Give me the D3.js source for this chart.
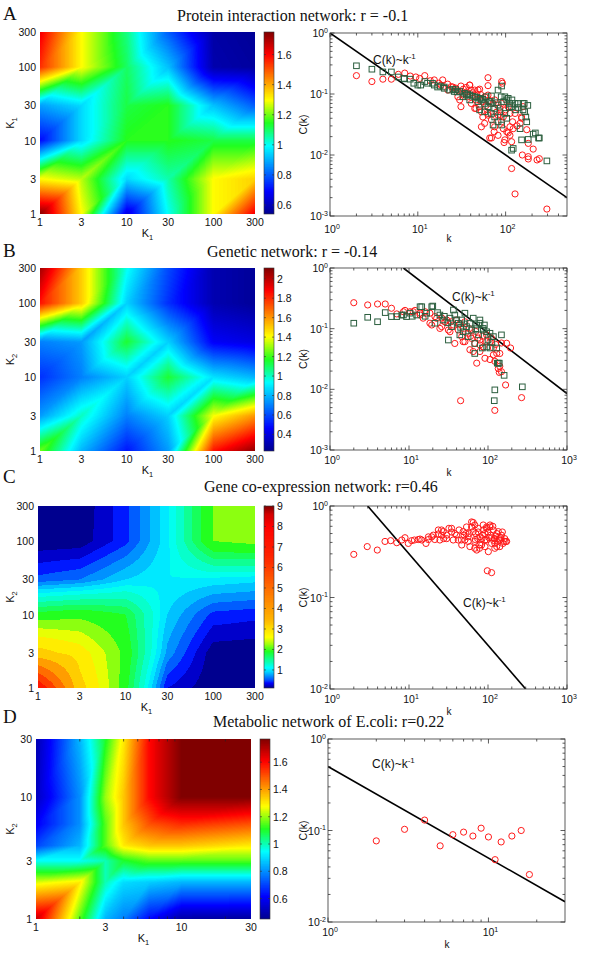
<!DOCTYPE html>
<html><head><meta charset="utf-8">
<script src="https://cdn.jsdelivr.net/npm/d3@7/dist/d3.min.js"></script>
<style>
html,body{margin:0;padding:0;background:#fff;}
svg{display:block;}
</style></head>
<body>
<svg id="fig" width="600" height="961" xmlns="http://www.w3.org/2000/svg"></svg>
<script>
// ================= DATA =================
const kGrid = [1, 3, 10, 30, 100, 300];
const kGridD = [1, 2, 3, 4, 6, 10, 30];

// rows = K2 (from 1 upward), columns = K1
const heatA = [
  [1.74, 1.3, 0.65, 1.0, 1.3, 1.62],
  [1.3, 1.25, 0.95, 1.05, 1.3, 1.35],
  [0.7, 0.95, 1.15, 1.15, 1.12, 1.12],
  [0.88, 0.95, 1.12, 1.15, 0.92, 0.8],
  [1.55, 1.3, 1.1, 0.92, 0.58, 0.56],
  [1.62, 1.3, 1.08, 0.8, 0.57, 0.55]
];
const heatB = [
  [1.25, 0.8, 0.5, 0.75, 1.85, 2.08],
  [0.75, 1.0, 0.7, 0.85, 1.4, 1.6],
  [0.55, 0.7, 0.85, 1.15, 0.88, 0.8],
  [0.7, 0.75, 1.15, 0.85, 0.45, 0.4],
  [1.85, 1.5, 0.85, 0.55, 0.3, 0.25],
  [2.05, 1.5, 0.95, 0.6, 0.3, 0.25]
];
const heatC = [
  [8.0, 3.4, 2.0, 0.4, 0.12, 0.12],
  [3.4, 3.0, 2.1, 0.8, 0.15, 0.13],
  [2.0, 2.1, 1.9, 1.0, 0.5, 0.45],
  [0.6, 0.7, 1.0, 1.15, 1.1, 1.05],
  [0.13, 0.15, 0.5, 1.1, 2.2, 2.3],
  [0.12, 0.13, 0.5, 1.1, 2.2, 2.3]
];
const heatD = [
  [1.68, 1.15, 0.85, 0.78, 0.62, 0.48, 0.47],
  [1.25, 1.3, 1.0, 0.9, 0.88, 0.85, 0.85],
  [0.95, 0.95, 1.0, 1.1, 1.15, 1.15, 1.15],
  [0.7, 0.85, 1.15, 1.3, 1.35, 1.35, 1.3],
  [0.6, 0.8, 1.15, 1.35, 1.5, 1.55, 1.5],
  [0.52, 0.8, 1.2, 1.35, 1.6, 1.77, 1.77],
  [0.5, 0.85, 1.1, 1.3, 1.6, 1.77, 1.77]
];
const levelsC = [0.12,0.25,0.4,0.55,0.7,0.85,1.0,1.15,1.3,1.5,1.7,1.9,2.2,2.5,2.8,3.2,4,5,6,7,8,9];

const cbTicksA = [0.6, 0.8, 1, 1.2, 1.4, 1.6];
const cbTicksB = [0.4, 0.6, 0.8, 1, 1.2, 1.4, 1.6, 1.8, 2];
const cbTicksC = [1, 2, 3, 4, 5, 6, 7, 8, 9];
const cbTicksD = [0.6, 0.8, 1, 1.2, 1.4, 1.6];
const heatTicks = [1, 3, 10, 30, 100, 300];
const heatTicksD = [1, 3, 10, 30];

// scatter data: [k, C(k)]
const protRed = [[2,0.2],[3,0.16],[4,0.175],[5,0.175],[6,0.21],[7.1,0.22],[8.2,0.197],[9.5,0.19],[10.5,0.18],[12,0.2],[13.9,0.165],[15.4,0.17],[17.3,0.15],[19.2,0.17],[21.9,0.145],[25,0.13],[28,0.116],[31,0.135],[35.6,0.128],[39,0.14],[28.6,0.09],[44.5,0.116],[50.6,0.12],[63,0.185],[90,0.16],[46,0.058],[53,0.029],[63,0.045],[66,0.019],[74,0.024],[82,0.021],[94,0.027],[96,0.016],[107,0.023],[117,0.006],[128,0.0023],[112,0.021],[155,0.01],[181,0.0155],[206,0.0125],[242,0.0087],[295,0.0013],[181,0.0086],[152,0.04],[174,0.026],[63,0.137],[30,0.08],[50,0.062],[53,0.051],[57.6,0.033],[69,0.0376],[75,0.029],[69,0.019],[98,0.0177],[103,0.024],[112,0.029],[122,0.027],[146,0.033],[117,0.0165],[90,0.035],[94,0.042],[82,0.045],[63,0.048],[55,0.075],[46,0.08],[37,0.09],[32.6,0.1],[40.6,0.116],[24,0.132],[22,0.116],[18.4,0.14],[39,0.14],[48.5,0.116],[63,0.096],[75,0.08],[90,0.07],[107,0.062],[128,0.048],[152,0.042],[158,0.062],[112,0.048],[44.5,0.058],[55,0.042],[40.6,0.07],[31,0.062],[228,0.0083],[181,0.0094],[27,0.125],[33,0.12],[36,0.108],[42,0.105],[47,0.1],[52,0.098],[58,0.09],[66,0.078],[72,0.07],[85,0.06],[100,0.055],[120,0.035],[135,0.03],[60,0.065],[78,0.05],[88,0.045],[92,0.15]];
const protGreen = [[2,0.29],[3,0.255],[4,0.23],[5,0.23],[6,0.19],[7,0.177],[8.2,0.175],[10,0.14],[12,0.16],[14.7,0.15],[16.8,0.13],[20,0.13],[23,0.116],[27,0.118],[30,0.11],[34,0.103],[39,0.096],[44.5,0.09],[50.6,0.085],[60,0.09],[69,0.093],[90,0.135],[89,0.09],[107,0.085],[118,0.08],[139,0.07],[163,0.07],[179,0.065],[158,0.055],[170,0.042],[152,0.0177],[181,0.018],[117,0.012],[206,0.022],[242,0.019],[295,0.008],[72,0.031],[82,0.035],[7,0.18],[9,0.15],[10.8,0.14],[12.9,0.15],[15.4,0.14],[20,0.124],[26,0.11],[32.6,0.09],[35.6,0.096],[39,0.08],[48.5,0.075],[53,0.08],[57.6,0.07],[63,0.062],[69,0.07],[75,0.058],[82,0.066],[98,0.09],[103,0.08],[112,0.07],[117,0.062],[128,0.07],[86,0.051],[98,0.048],[103,0.04],[90,0.031],[75,0.042],[69,0.048],[57.6,0.051],[50.6,0.055],[158,0.07],[165,0.051],[174,0.035],[146,0.027],[122,0.0128],[218,0.023],[237,0.019],[82,0.116],[18,0.135],[25,0.12],[28,0.108],[37,0.1],[42,0.092],[47,0.088],[55,0.082],[65,0.075],[78,0.072],[95,0.075],[110,0.06],[130,0.055],[140,0.06]];

const genRed = [[2,0.268],[3,0.246],[4,0.255],[5,0.255],[6,0.217],[7,0.175],[8.5,0.19],[10.3,0.19],[11.9,0.2],[13.8,0.18],[16,0.19],[18.4,0.18],[19.4,0.115],[22.4,0.148],[24.6,0.101],[28.5,0.13],[31.5,0.095],[36.5,0.115],[42,0.095],[48.5,0.061],[45,0.0065],[72,0.027],[91.5,0.0325],[117,0.037],[141,0.039],[141,0.024],[139,0.019],[167,0.0118],[122,0.0045],[266,0.0073],[193,0.048],[172,0.0575],[96,0.061],[79,0.054],[65,0.042],[8.9,0.2],[11.3,0.19],[13.8,0.168],[15.1,0.149],[18.4,0.123],[21.3,0.158],[25.9,0.108],[30,0.139],[33,0.089],[46.5,0.074],[51,0.061],[56,0.084],[62,0.069],[68,0.057],[59,0.045],[79,0.065],[87,0.05],[96,0.079],[106,0.061],[117,0.048],[129,0.039],[148,0.058],[122,0.029],[135,0.022],[148,0.0195],[38,0.057],[48.5,0.101],[40,0.139],[51,0.13],[106,0.031],[79,0.042],[26,0.15],[34,0.13],[44,0.12],[58,0.1],[70,0.09],[85,0.075],[110,0.07],[125,0.055],[60,0.075],[75,0.07]];
const genGreen = [[2,0.123],[3,0.154],[4,0.13],[5,0.184],[6,0.158],[7,0.158],[8.1,0.168],[9.3,0.158],[11,0.16],[13.8,0.23],[16,0.16],[20,0.236],[23,0.184],[31.5,0.065],[36.5,0.203],[51,0.18],[68,0.039],[85,0.048],[106,0.048],[131,0.027],[139,0.027],[148,0.079],[160,0.017],[122,0.0098],[120,0.0065],[272,0.011],[79,0.139],[87,0.095],[8.5,0.168],[10.3,0.18],[12.5,0.168],[14.5,0.23],[16.7,0.18],[19.4,0.23],[21.3,0.123],[24.6,0.168],[27,0.139],[33,0.149],[34.6,0.108],[38,0.168],[42,0.123],[46.5,0.139],[48.5,0.089],[53.5,0.108],[59,0.123],[65,0.149],[72,0.115],[79,0.123],[87,0.101],[96,0.089],[106,0.084],[117,0.074],[68,0.057],[76,0.079],[44,0.079],[56,0.074],[96,0.05],[129,0.048],[135,0.027],[28,0.16],[31,0.125],[40,0.14],[45,0.105],[50,0.12],[62,0.095],[70,0.1],[90,0.115],[100,0.065],[112,0.06]];

const coexpRed = [[2.0,0.296],[2.96,0.36],[3.97,0.33],[4.97,0.41],[5.86,0.418],[7,0.397],[8.1,0.425],[8.9,0.45],[9.8,0.39],[10.8,0.418],[11.7,0.425],[13.1,0.43],[13.8,0.435],[14.5,0.425],[16.4,0.39],[17.6,0.43],[17.6,0.46],[19.4,0.46],[20.3,0.48],[21.2,0.43],[23.5,0.495],[23.5,0.547],[24.6,0.425],[25.8,0.547],[25.8,0.48],[27,0.525],[27.5,0.44],[30,0.48],[30,0.44],[32,0.57],[34.5,0.52],[34.6,0.57],[36.3,0.425],[38,0.5],[40,0.48],[42,0.425],[43,0.547],[46,0.425],[46.5,0.375],[48.5,0.525],[49.7,0.48],[51,0.425],[52.6,0.5],[53.5,0.59],[56,0.41],[56,0.46],[59,0.36],[62,0.59],[62,0.67],[65,0.66],[65,0.525],[68,0.345],[68,0.41],[68,0.62],[69,0.43],[72,0.33],[75,0.52],[75,0.57],[78,0.345],[79,0.375],[79,0.46],[83,0.375],[85,0.48],[87,0.62],[91.5,0.425],[91.5,0.5],[91.5,0.36],[96,0.59],[96,0.425],[96,0.57],[98,0.196],[101,0.317],[106,0.62],[106,0.59],[108,0.48],[111,0.187],[111,0.45],[111,0.39],[117,0.547],[122,0.39],[122,0.44],[122,0.345],[129,0.5],[129,0.36],[135,0.525],[139,0.44],[141,0.425],[141,0.36],[148,0.48],[155,0.39],[160,0.41],[163,0.44],[169,0.41],[172,0.41],[58,0.5],[70,0.5],[88,0.55],[100,0.52],[103,0.45],[115,0.6],[125,0.47],[132,0.41],[145,0.45],[152,0.52],[118,0.42],[84,0.44],[74,0.44]];

const metabRed = [[2,0.077],[3,0.103],[4,0.13],[5,0.068],[6,0.09],[7,0.096],[8,0.087],[9,0.106],[10,0.085],[11,0.048],[12,0.075],[14,0.087],[16,0.1],[18,0.033]];

// reference lines C(k) = a / k over [kmin, kmax]
const refA = {a: 1, k: [1, 500]};
const refB = {a: 8.5, k: [8.5, 1000]};
const refC = {a: 3, k: [3, 300]};
const refD = {a: 0.5, k: [1, 30]};

// ================= DRAWING =================
const SANS = "Arial, 'Liberation Sans', Helvetica, sans-serif";
const SERIF = "'Times New Roman', 'Liberation Serif', Times, serif";
const svg = d3.select("#fig");

const cmapScale = d3.scaleLinear()
  .domain([0, 0.125, 0.375, 0.5, 0.625, 0.75, 0.875, 1])
  .range(["#00008f", "#0000ff", "#00ffff", "#20ff20", "#ffff00", "#ff8000", "#ff0000", "#800000"])
  .interpolate(d3.interpolateRgb).clamp(true);
const LUT = d3.range(256).map(i => d3.rgb(cmapScale(i / 255)));
function colorAt(t) { const i = Math.max(0, Math.min(255, Math.round(t * 255))); return LUT[i]; }

function interpVal(o, kx, ky) {
  const Lx = o.xs.map(Math.log10), Ly = o.ys.map(Math.log10);
  const lx = Math.log10(kx), ly = Math.log10(ky);
  const i = Math.min(Math.max(d3.bisectRight(Lx, lx) - 1, 0), Lx.length - 2);
  const j = Math.min(Math.max(d3.bisectRight(Ly, ly) - 1, 0), Ly.length - 2);
  const u = Math.max(0, Math.min(1, (lx - Lx[i]) / (Lx[i + 1] - Lx[i])));
  const v = Math.max(0, Math.min(1, (ly - Ly[j]) / (Ly[j + 1] - Ly[j])));
  const Z = o.Z;
  const z00 = Z[j][i], z10 = Z[j][i + 1], z01 = Z[j + 1][i], z11 = Z[j + 1][i + 1];
  if (o.mode === "bilin") return z00 * (1 - u) * (1 - v) + z10 * u * (1 - v) + z01 * (1 - u) * v + z11 * u * v;
  if (u >= v) return z00 + u * (z10 - z00) + v * (z11 - z10);
  return z00 + v * (z01 - z00) + u * (z11 - z01);
}

function subLabel(sel, main, sub) {
  sel.append("tspan").text(main);
  sel.append("tspan").attr("dy", 3).attr("font-size", "7.5px").text(sub);
}

function drawHeat(o) {
  const x = d3.scaleLog().domain([o.xs[0], o.xs[o.xs.length - 1]]).range([o.x0, o.x1]);
  const y = d3.scaleLog().domain([o.ys[0], o.ys[o.ys.length - 1]]).range([o.y1, o.y0]);
  const w = Math.round(o.x1 - o.x0), h = Math.round(o.y1 - o.y0);
  const cv = document.createElement("canvas"); cv.width = w; cv.height = h;
  const ctx = cv.getContext("2d"); const img = ctx.createImageData(w, h);
  for (let py = 0; py < h; py++) {
    for (let px = 0; px < w; px++) {
      const kx = x.invert(o.x0 + px + 0.5), ky = y.invert(o.y0 + py + 0.5);
      let v = interpVal(o, kx, ky);
      if (o.levels) {
        const idx = Math.min(Math.max(0, d3.bisectRight(o.levels, v) - 1), o.levels.length - 1);
        v = o.levels[idx];
      }
      const c = colorAt(o.tScale(v));
      const off = (py * w + px) * 4;
      img.data[off] = c.r; img.data[off + 1] = c.g; img.data[off + 2] = c.b; img.data[off + 3] = 255;
    }
  }
  ctx.putImageData(img, 0, 0);
  svg.append("image").attr("x", o.x0).attr("y", o.y0).attr("width", w).attr("height", h)
    .attr("preserveAspectRatio", "none").attr("href", cv.toDataURL());

  if (o.minor) {
    const mins = [];
    for (let n = 0; n < 3; n++) for (let m = 2; m <= 9; m++) { const t = m * Math.pow(10, n); if (t > o.xs[0] && t < o.xs[o.xs.length - 1] && ![3, 30].includes(t)) mins.push(t); }
    const g = svg.append("g").attr("stroke", "#222").attr("stroke-width", 0.7);
    mins.forEach(t => {
      g.append("line").attr("x1", x(t)).attr("x2", x(t)).attr("y1", o.y1).attr("y2", o.y1 - 2.5);
      g.append("line").attr("x1", x(t)).attr("x2", x(t)).attr("y1", o.y0).attr("y2", o.y0 + 2.5);
    });
  }

  const tg = svg.append("g").attr("font-family", SANS).attr("font-size", "10.5px").attr("fill", "#111");
  o.ticks.forEach(t => {
    tg.append("text").attr("x", o.x0 - 4).attr("y", y(t) + 4).attr("text-anchor", "end").text(t);
    tg.append("text").attr("x", x(t)).attr("y", o.y1 + 12).attr("text-anchor", "middle").text(t);
  });
  const xl = tg.append("text").attr("x", (o.x0 + o.x1) / 2).attr("y", o.y1 + 23).attr("text-anchor", "middle").attr("font-size", "11px");
  subLabel(xl, "K", "1");
  const yl = tg.append("text").attr("transform", `translate(14,${(o.y0 + o.y1) / 2}) rotate(-90)`).attr("text-anchor", "middle").attr("font-size", "11px");
  subLabel(yl, "K", o.ySub);

  // colorbar
  const cb = d3.scaleLinear().domain(o.domain).range([o.y1, o.y0]);
  const cw = o.cb1 - o.cb0;
  const cv2 = document.createElement("canvas"); cv2.width = cw; cv2.height = h;
  const c2 = cv2.getContext("2d");
  for (let py = 0; py < h; py++) {
    const v = cb.invert(o.y0 + py + 0.5);
    const c = colorAt(o.tScale(v));
    c2.fillStyle = `rgb(${c.r},${c.g},${c.b})`; c2.fillRect(0, py, cw, 1);
  }
  svg.append("image").attr("x", o.cb0).attr("y", o.y0).attr("width", cw).attr("height", h)
    .attr("preserveAspectRatio", "none").attr("href", cv2.toDataURL());
  svg.append("rect").attr("x", o.cb0).attr("y", o.y0).attr("width", cw).attr("height", h)
    .attr("fill", "none").attr("stroke", "#333").attr("stroke-width", 0.6);
  const cg = svg.append("g").attr("font-family", SANS).attr("font-size", "10.5px").attr("fill", "#111");
  o.cbTicks.forEach(t => {
    cg.append("line").attr("x1", o.cb1).attr("x2", o.cb1 - 2).attr("y1", cb(t)).attr("y2", cb(t)).attr("stroke", "#333").attr("stroke-width", 0.6);
    cg.append("line").attr("x1", o.cb0).attr("x2", o.cb0 + 2).attr("y1", cb(t)).attr("y2", cb(t)).attr("stroke", "#333").attr("stroke-width", 0.6);
    cg.append("text").attr("x", o.cb1 + 3).attr("y", cb(t) + 4).text(t);
  });
}

function logTicks(d) {
  const maj = [], min = [];
  const n0 = Math.floor(Math.log10(d[0]) + 1e-9), n1 = Math.ceil(Math.log10(d[1]) - 1e-9);
  for (let n = n0; n <= n1; n++) {
    const b = Math.pow(10, n);
    if (b >= d[0] * 0.999 && b <= d[1] * 1.001) maj.push(n);
    for (let m = 2; m <= 9; m++) { const t = m * b; if (t > d[0] && t < d[1]) min.push(t); }
  }
  return {maj, min};
}

let clipId = 0;
function drawScatter(o) {
  const x = d3.scaleLog().domain(o.xd).range([o.x0, o.x1]);
  const y = d3.scaleLog().domain(o.yd).range([o.y1, o.y0]);
  const id = "clip" + (clipId++);
  svg.append("clipPath").attr("id", id).append("rect").attr("x", o.x0).attr("y", o.y0).attr("width", o.x1 - o.x0).attr("height", o.y1 - o.y0);
  const g = svg.append("g").attr("clip-path", `url(#${id})`);
  const lineData = o.ref.k.map(k => [k, o.ref.a / k]);
  g.append("path").attr("d", d3.line().x(d => x(d[0])).y(d => y(d[1]))(lineData))
    .attr("stroke", "#000").attr("stroke-width", 1.6).attr("fill", "none");
  o.series.forEach(s => {
    if (s.shape === "circle") {
      g.selectAll(null).data(s.data).join("circle").attr("cx", d => x(d[0])).attr("cy", d => y(d[1])).attr("r", 3.1)
        .attr("fill", "none").attr("stroke", s.color).attr("stroke-width", 1);
    } else {
      g.selectAll(null).data(s.data).join("rect").attr("x", d => x(d[0]) - 2.8).attr("y", d => y(d[1]) - 2.8)
        .attr("width", 5.6).attr("height", 5.6).attr("fill", "none").attr("stroke", s.color).attr("stroke-width", 1);
    }
  });
  const fg = svg.append("g").attr("stroke", "#333").attr("stroke-width", 0.8);
  fg.append("rect").attr("x", o.x0).attr("y", o.y0).attr("width", o.x1 - o.x0).attr("height", o.y1 - o.y0).attr("fill", "none");
  const xt = logTicks(o.xd), yt = logTicks(o.yd);
  const tick = (t, len, axis) => {
    if (axis === "x") {
      fg.append("line").attr("x1", x(t)).attr("x2", x(t)).attr("y1", o.y1).attr("y2", o.y1 - len);
      fg.append("line").attr("x1", x(t)).attr("x2", x(t)).attr("y1", o.y0).attr("y2", o.y0 + len);
    } else {
      fg.append("line").attr("y1", y(t)).attr("y2", y(t)).attr("x1", o.x0).attr("x2", o.x0 + len);
      fg.append("line").attr("y1", y(t)).attr("y2", y(t)).attr("x1", o.x1).attr("x2", o.x1 - len);
    }
  };
  xt.min.forEach(t => tick(t, 2.5, "x"));
  xt.maj.forEach(n => tick(Math.pow(10, n), 4.5, "x"));
  yt.min.forEach(t => tick(t, 2.5, "y"));
  yt.maj.forEach(n => tick(Math.pow(10, n), 4.5, "y"));

  const tg = svg.append("g").attr("font-family", SANS).attr("font-size", "10.5px").attr("fill", "#111");
  xt.maj.forEach(n => {
    const t = tg.append("text").attr("x", x(Math.pow(10, n)) + 2).attr("y", o.y1 + o.xlOff).attr("text-anchor", "middle");
    t.append("tspan").text("10");
    t.append("tspan").attr("dy", -4.5).attr("font-size", "7px").text(String(n));
  });
  yt.maj.forEach(n => {
    const t = tg.append("text").attr("x", o.x0 - 2).attr("y", y(Math.pow(10, n)) + 4).attr("text-anchor", "end");
    t.append("tspan").text("10");
    t.append("tspan").attr("dy", -4.5).attr("font-size", "7px").text(String(n));
  });
  tg.append("text").attr("x", (o.x0 + o.x1) / 2 + 0.5).attr("y", o.y1 + 26).attr("text-anchor", "middle").attr("font-size", "10px").text("k");
  tg.append("text").attr("transform", `translate(307,${(o.y0 + o.y1) / 2}) rotate(-90)`).attr("text-anchor", "middle").attr("font-size", "10.5px").text("C(k)");
  const lab = tg.append("text").attr("x", o.lab[0]).attr("y", o.lab[1]).attr("font-size", "12px");
  lab.append("tspan").text("C(k)~k");
  lab.append("tspan").attr("dy", -5).attr("font-size", "8px").text("-1");
}

function title(letter, ly, text, tx, ty) {
  svg.append("text").attr("x", 3).attr("y", ly).attr("font-family", SERIF).attr("font-size", "19px").attr("fill", "#111").text(letter);
  svg.append("text").attr("x", tx).attr("y", ty).attr("font-family", SERIF).attr("font-size", "16px").attr("fill", "#111").text(text);
}

// ---- Panel A ----
drawHeat({x0: 40, x1: 255, y0: 32, y1: 214, xs: kGrid, ys: kGrid, Z: heatA, mode: "tri",
  tScale: d3.scaleLinear().domain([0.54, 1.75]).range([0, 1]).clamp(true), domain: [0.54, 1.75],
  ticks: heatTicks, ySub: "1", cb0: 264, cb1: 274, cbTicks: cbTicksA});
drawScatter({x0: 330, x1: 567, y0: 33, y1: 216, xd: [1, 500], yd: [1e-3, 1], ref: refA, xlOff: 17, lab: [373, 64],
  series: [{data: protRed, shape: "circle", color: "#ff1a1a"}, {data: protGreen, shape: "square", color: "#2b5e3e"}]});
title("A", 20, "Protein interaction network: r = -0.1", 177, 21);

// ---- Panel B ----
drawHeat({x0: 40, x1: 255, y0: 268, y1: 451, xs: kGrid, ys: kGrid, Z: heatB, mode: "tri",
  tScale: d3.scaleLinear().domain([0.23, 2.11]).range([0, 1]).clamp(true), domain: [0.23, 2.11],
  ticks: heatTicks, ySub: "2", cb0: 264, cb1: 274, cbTicks: cbTicksB});
drawScatter({x0: 330, x1: 567, y0: 268, y1: 450, xd: [1, 1000], yd: [1e-3, 1], ref: refB, xlOff: 14, lab: [452, 301],
  series: [{data: genRed, shape: "circle", color: "#ff1a1a"}, {data: genGreen, shape: "square", color: "#2b5e3e"}]});
title("B", 257, "Genetic network: r = -0.14", 207, 257);

// ---- Panel C ----
drawHeat({x0: 38, x1: 255, y0: 506, y1: 688, xs: kGrid, ys: kGrid, Z: heatC, mode: "bilin", levels: levelsC,
  tScale: d3.scaleLinear()
    .domain([0.12, 0.5, 0.9, 1.1, 1.6, 1.9, 2.3, 2.6, 3.5, 5, 6.5, 8, 8.6, 9])
    .range([0, 0.2, 0.33, 0.375, 0.45, 0.5, 0.58, 0.625, 0.7, 0.77, 0.84, 0.875, 0.92, 1]).clamp(true),
  domain: [0.12, 9], ticks: heatTicks, ySub: "2", cb0: 264, cb1: 274, cbTicks: cbTicksC});
drawScatter({x0: 330, x1: 567, y0: 506, y1: 689, xd: [1, 1000], yd: [1e-2, 1], ref: refC, xlOff: 14, lab: [463, 607],
  series: [{data: coexpRed, shape: "circle", color: "#ff1a1a"}]});
title("C", 483, "Gene co-expression network: r=0.46", 204, 492);

// ---- Panel D ----
drawHeat({x0: 36, x1: 251, y0: 739, y1: 919, xs: kGridD, ys: kGridD, Z: heatD, mode: "tri", minor: true,
  tScale: d3.scaleLinear().domain([0.45, 1.77]).range([0, 1]).clamp(true), domain: [0.45, 1.77],
  ticks: heatTicksD, ySub: "2", cb0: 260, cb1: 270, cbTicks: cbTicksD});
drawScatter({x0: 328, x1: 565, y0: 739, y1: 922, xd: [1, 30], yd: [1e-2, 1], ref: refD, xlOff: 14, lab: [372, 768],
  series: [{data: metabRed, shape: "circle", color: "#ff1a1a"}]});
title("D", 723, "Metabolic network of E.coli: r=0.22", 213, 727);
</script>
</body></html>
